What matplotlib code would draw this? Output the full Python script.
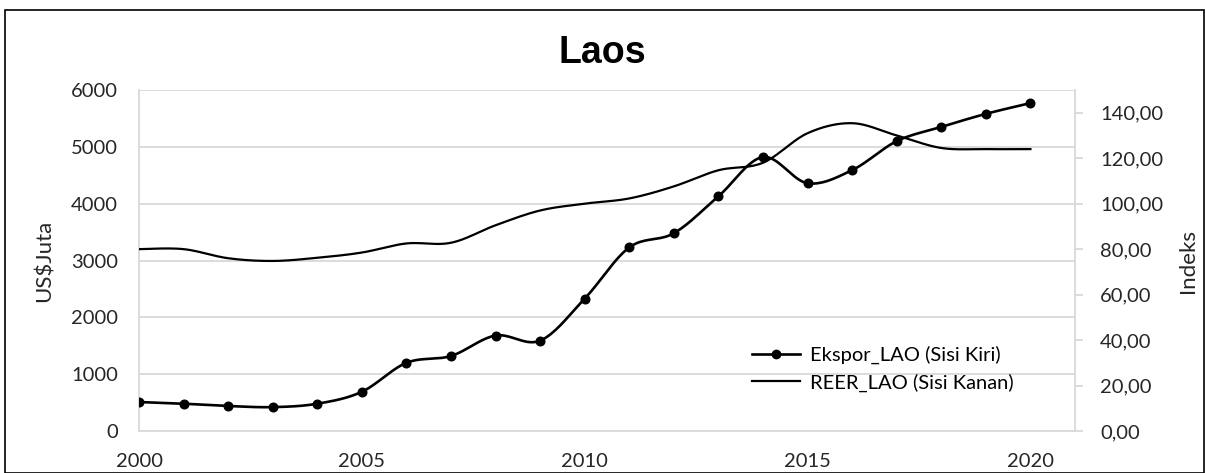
import numpy as np
import matplotlib.pyplot as plt
from matplotlib.lines import Line2D
from matplotlib.patches import Rectangle

plt.rcParams['font.family'] = ['Lato', 'DejaVu Sans']

years = list(range(2000, 2021))
ekspor = [510, 480, 440, 420, 480, 690, 1200, 1320, 1680, 1590, 2330,
          3230, 3480, 4130, 4820, 4360, 4590, 5100, 5350, 5580, 5770]
reer = [80.0, 80.0, 76.0, 74.8, 76.2, 78.5, 82.5, 82.8, 90.5, 97.0, 100.0,
        102.3, 107.6, 114.7, 118.0, 131.0, 135.4, 130.0, 124.5, 124.0, 124.0]


def smooth(x, y, n=20):
    # kurva halus ala Excel (Catmull-Rom -> Bezier)
    x = np.asarray(x, float)
    y = np.asarray(y, float)
    px = np.concatenate([[x[0]], x, [x[-1]]])
    py = np.concatenate([[y[0]], y, [y[-1]]])
    xs, ys = [], []
    t = np.linspace(0, 1, n, endpoint=False)
    for i in range(1, len(px) - 2):
        p0 = np.array([px[i], py[i]])
        p3 = np.array([px[i + 1], py[i + 1]])
        p1 = p0 + (np.array([px[i + 1], py[i + 1]]) - np.array([px[i - 1], py[i - 1]])) / 6
        p2 = p3 - (np.array([px[i + 2], py[i + 2]]) - np.array([px[i], py[i]])) / 6
        b = ((1 - t) ** 3)[:, None] * p0 + (3 * (1 - t) ** 2 * t)[:, None] * p1 \
            + (3 * (1 - t) * t ** 2)[:, None] * p2 + (t ** 3)[:, None] * p3
        xs.extend(b[:, 0])
        ys.extend(b[:, 1])
    xs.append(x[-1])
    ys.append(y[-1])
    return np.array(xs), np.array(ys)


fig = plt.figure(figsize=(12.05, 4.73), dpi=100)
ax = fig.add_axes([139 / 1205, 1 - 431 / 473, (1075 - 139) / 1205, (431 - 90) / 473])
ax2 = ax.twinx()

sx, sy = smooth(years, ekspor)
ax.plot(sx, sy, color='black', lw=1.9, zorder=3)
ax.plot(years, ekspor, 'o', color='black', ms=6.2, zorder=4)

rx, ry = smooth(years, reer)
ax2.plot(rx, ry, color='black', lw=1.6)

ax.set_xlim(2000, 2021)
ax.set_ylim(0, 6000)
ax2.set_ylim(0, 150)
ax.set_xticks([2000, 2005, 2010, 2015, 2020])
ax.set_yticks(range(0, 6001, 1000))
ax2.set_yticks(range(0, 141, 20))
ax2.set_yticklabels([f'{v},00' for v in range(0, 141, 20)])

grid_c = '#d9d9d9'
txt_c = '#262626'
ax.grid(axis='y', color=grid_c, lw=1.3)
ax.set_axisbelow(True)
for a in (ax, ax2):
    for s in a.spines.values():
        s.set_visible(False)
for a, side in ((ax, 'left'), (ax, 'bottom'), (ax2, 'right')):
    a.spines[side].set_visible(True)
    a.spines[side].set_color(grid_c)
    a.spines[side].set_linewidth(1.3)

ax.tick_params(axis='y', length=0, pad=15, labelsize=14.5, labelcolor=txt_c)
ax.tick_params(axis='x', length=0, pad=16, labelsize=14.5, labelcolor=txt_c)
ax2.tick_params(axis='y', length=6, color=grid_c, width=1.3, pad=12,
                labelsize=14.5, labelcolor=txt_c)

ax.set_ylabel('US$Juta', fontsize=16, labelpad=12, color=txt_c)
ax2.set_ylabel('Indeks', fontsize=16, labelpad=11, color=txt_c)
fig.suptitle('Laos', fontsize=27, fontweight='bold', y=0.925,
             family=['Liberation Sans', 'DejaVu Sans'])

handles = [Line2D([], [], color='black', lw=1.9, marker='o', ms=6),
           Line2D([], [], color='black', lw=1.6)]
ax.legend(handles, ['Ekspor_LAO (Sisi Kiri)', 'REER_LAO (Sisi Kanan)'],
          loc='center left', bbox_to_anchor=(0.655, 0.182), frameon=False,
          borderpad=0, borderaxespad=0,
          fontsize=14.5, handlelength=2.4, handletextpad=0.5, labelspacing=0.45)

fig.patches.append(Rectangle((5 / 1205, 0), 1 - 6 / 1205, 1 - 10 / 473,
                             transform=fig.transFigure, fill=False,
                             edgecolor='black', lw=1.2))

fig.savefig('out.png', dpi=100)
